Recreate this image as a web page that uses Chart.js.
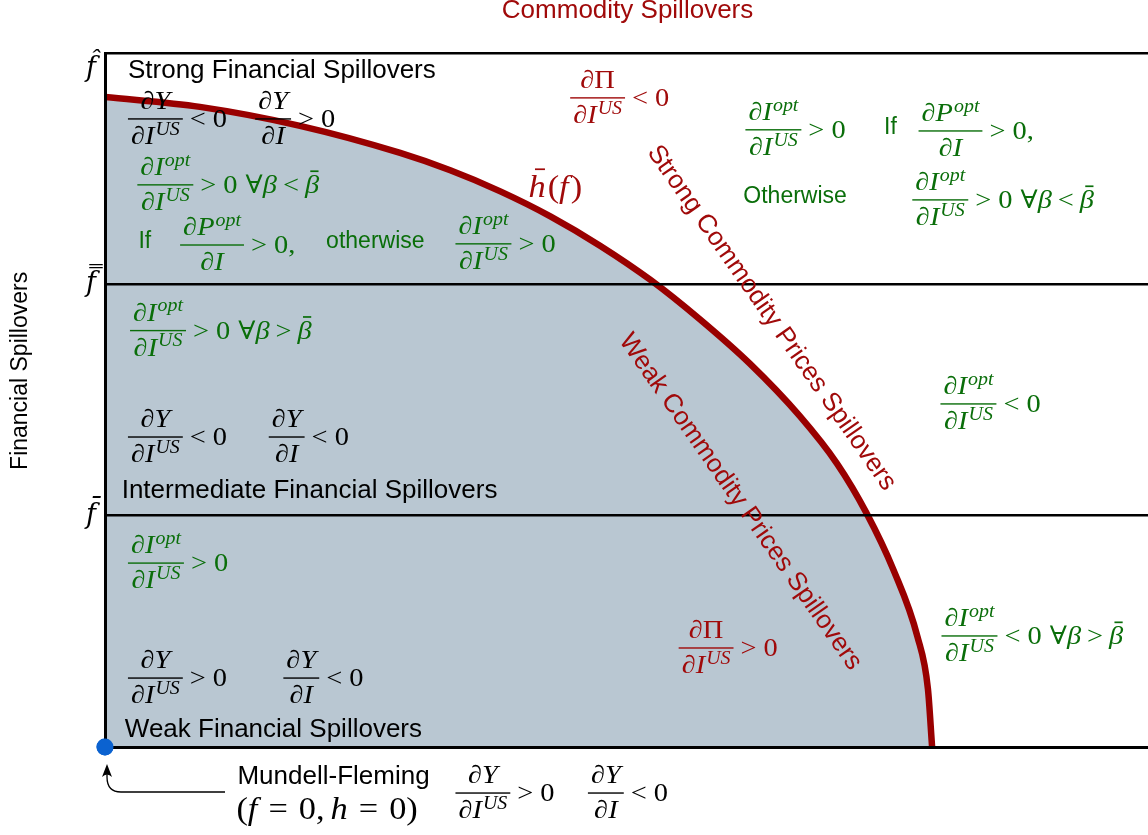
<!DOCTYPE html>
<html>
<head>
<meta charset="utf-8">
<script src="https://cdn.jsdelivr.net/npm/chart.js@4.4.0/dist/chart.umd.min.js"></script>
<style>
  html, body { margin: 0; padding: 0; background: #fff; overflow: hidden; }
  #wrap { width: 1148px; height: 835px; }
</style>
</head>
<body>
<div id="wrap"><canvas id="regimeChart"></canvas></div>
<script>
// boundary h̄(f)  (x: commodity spillovers 0-10, y: financial spillovers 0-3)
const curveX = [0, 0.91, 1.87, 2.83, 3.31, 3.79, 4.27, 4.75, 5.23, 5.70, 6.18, 6.66, 7.02, 7.30, 7.56, 7.79, 7.89, 7.93];
const curveY = [2.81, 2.767, 2.685, 2.568, 2.493, 2.402, 2.294, 2.166, 2.019, 1.85, 1.658, 1.431, 1.224, 1.012, 0.765, 0.476, 0.251, 0];
// Mundell-Fleming point
const originX = [0];
const originY = [0];
// financial spillover thresholds on the y axis
const yTickValues = [0, 1, 2, 3];
const yTickLabels = ['', 'f\u0304', 'f\u033F', 'f\u0302'];

const GREEN = '#0a6e0a', RED = '#a00a0a', CURVE = '#990000', FILL = '#b9c7d2';
const MATH = '"Liberation Serif", "DejaVu Serif", serif';
const SANS = '"Liberation Sans", Arial, sans-serif';
const GF = 1.06, HS = 1.12;   // glyph size / horizontal stretch to get closer to Computer Modern widths

// tiny math layout helpers
const it = t => ({ t, st: 'italic' });
const rm = t => ({ t, st: 'normal' });
const up = t => ({ t, st: 'italic', sup: true });
const sf = t => ({ t, sans: true });
const sp = gap => ({ gap });
const br = (t, h) => ({ t, st: 'italic', bar: h });
const fr = (num, den) => ({ frac: [num, den] });
const rel = (op, rhs) => [sp(7), rm(op), sp(7), rm(rhs)];
const forall = op => [sp(8), rm('\u2200'), it('\u03B2'), sp(6), rm(op), sp(6), br('\u03B2', 0.9)];

const dY_dIUS = fr([it('\u2202Y')], [it('\u2202I'), up('US')]);
const dY_dI = fr([it('\u2202Y')], [it('\u2202I')]);
const dIo_dIUS = fr([it('\u2202I'), up('opt')], [it('\u2202I'), up('US')]);
const dPo_dI = fr([it('\u2202P'), up('opt')], [it('\u2202I')]);
const dPi_dIUS = fr([it('\u2202'), rm('\u03A0')], [it('\u2202I'), up('US')]);

const notes = [
  { x: 0.22, y: 2.715, c: '#000', e: [dY_dIUS, ...rel('<', '0')] },
  { x: 1.44, y: 2.715, c: '#000', e: [dY_dI, ...rel('>', '0')] },
  { x: 0.31, y: 2.43, c: GREEN, e: [dIo_dIUS, ...rel('>', '0'), ...forall('<')] },
  { x: 0.32, y: 2.17, c: GREEN, e: [sf('If')] },
  { x: 0.72, y: 2.17, c: GREEN, e: [dPo_dI, ...rel('>', '0,')] },
  { x: 2.12, y: 2.17, c: GREEN, e: [sf('otherwise')] },
  { x: 3.36, y: 2.175, c: GREEN, e: [dIo_dIUS, ...rel('>', '0')] },
  { x: 4.46, y: 2.806, c: RED, e: [dPi_dIUS, ...rel('<', '0')] },
  { x: 4.06, y: 2.42, c: RED, size: 29, e: [br('h', 0.95), sp(2), rm('('), it('f'), sp(2), rm(')')] },
  { x: 6.14, y: 2.668, c: GREEN, e: [dIo_dIUS, ...rel('>', '0')] },
  { x: 7.47, y: 2.663, c: GREEN, e: [sf('If')] },
  { x: 7.80, y: 2.663, c: GREEN, e: [dPo_dI, ...rel('>', '0,')] },
  { x: 6.12, y: 2.365, c: GREEN, e: [sf('Otherwise')] },
  { x: 7.74, y: 2.365, c: GREEN, e: [dIo_dIUS, ...rel('>', '0'), ...forall('<')] },
  { x: 0.24, y: 1.80, c: GREEN, e: [dIo_dIUS, ...rel('>', '0'), ...forall('>')] },
  { x: 0.22, y: 1.34, c: '#000', e: [dY_dIUS, ...rel('<', '0')] },
  { x: 1.57, y: 1.34, c: '#000', e: [dY_dI, ...rel('<', '0')] },
  { x: 8.01, y: 1.483, c: GREEN, e: [dIo_dIUS, ...rel('<', '0')] },
  { x: 0.22, y: 0.795, c: GREEN, e: [dIo_dIUS, ...rel('>', '0')] },
  { x: 0.22, y: 0.298, c: '#000', e: [dY_dIUS, ...rel('>', '0')] },
  { x: 1.71, y: 0.298, c: '#000', e: [dY_dI, ...rel('<', '0')] },
  { x: 5.50, y: 0.428, c: RED, e: [dPi_dIUS, ...rel('>', '0')] },
  { x: 8.02, y: 0.48, c: GREEN, e: [dIo_dIUS, ...rel('<', '0'), ...forall('>')] },
  { x: 3.36, y: -0.199, c: '#000', e: [dY_dIUS, ...rel('>', '0')] },
  { x: 4.63, y: -0.199, c: '#000', e: [dY_dI, ...rel('<', '0')] },
  { x: 1.26, y: -0.27, c: '#000', size: 29, e: [rm('('), it('f'), sp(11), rm('='), sp(11), rm('0,'), sp(6), it('h'), sp(11), rm('='), sp(11), rm('0)')] }
];

const labels = [
  { x: 0.22, y: 2.892, t: 'Strong Financial Spillovers', c: '#000', size: 26 },
  { x: 0.16, y: 1.077, t: 'Intermediate Financial Spillovers', c: '#000', size: 26 },
  { x: 0.19, y: 0.043, t: 'Weak Financial Spillovers', c: '#000', size: 26 },
  { x: 1.27, y: -0.16, t: 'Mundell-Fleming', c: '#000', size: 26 },
  { x: 5.01, y: 3.152, t: 'Commodity Spillovers', c: RED, size: 26, align: 'center' },
  { x: -0.805, y: 1.626, t: 'Financial Spillovers', c: '#000', size: 23, align: 'center', base: 'middle', rot: -90 },
  { x: 6.39, y: 1.855, t: 'Strong Commodity Prices Spillovers', c: RED, size: 26, align: 'center', base: 'middle', rot: 55 },
  { x: 6.09, y: 1.06, t: 'Weak Commodity Prices Spillovers', c: RED, size: 26, align: 'center', base: 'middle', rot: 55 }
];

function setFont(ctx, item, size) {
  if (item.sans) ctx.font = Math.round(size * 0.96) + 'px ' + SANS;
  else ctx.font = item.st + ' ' + ((item.sup ? size * 0.7 : size) * GF).toFixed(1) + 'px ' + MATH;
}

function runWidth(ctx, item, size) {
  setFont(ctx, item, size);
  const w = ctx.measureText(item.t).width;
  return item.sans ? w : w * HS;
}

function widthOf(ctx, items, size) {
  let w = 0;
  for (const item of items) {
    if (item.gap) w += item.gap;
    else if (item.frac) w += fracWidth(ctx, item, size);
    else w += runWidth(ctx, item, size) + (item.sup ? 1 : 0);
  }
  return w;
}

function fracWidth(ctx, item, size) {
  return Math.max(widthOf(ctx, item.frac[0], size), widthOf(ctx, item.frac[1], size)) + 6;
}

function drawLine(ctx, items, x, baseline, size, axis) {
  for (const item of items) {
    if (item.gap) { x += item.gap; continue; }
    if (item.frac) { x += drawFrac(ctx, item, x, axis, size); continue; }
    let y = baseline;
    if (item.sup) y -= size * 0.38;
    if (item.sans) y -= size * 0.2;
    const dx = item.sup ? 1 : 0;
    const w = runWidth(ctx, item, size);
    setFont(ctx, item, size);
    ctx.save();
    ctx.translate(x + dx, y);
    if (!item.sans) ctx.scale(HS, 1);
    ctx.fillText(item.t, 0, 0);
    ctx.restore();
    if (item.bar) {
      ctx.fillRect(x + w * 0.38, y - size * item.bar - 0.8, w * 0.58, 1.7);
    }
    x += w + dx;
  }
  return x;
}

function drawFrac(ctx, item, x, axis, size) {
  const wn = widthOf(ctx, item.frac[0], size);
  const wd = widthOf(ctx, item.frac[1], size);
  const w = Math.max(wn, wd) + 6;
  drawLine(ctx, item.frac[0], x + (w - wn) / 2, axis - size * 0.42, size, axis);
  drawLine(ctx, item.frac[1], x + (w - wd) / 2, axis + size * 1.04, size, axis);
  ctx.fillRect(x, axis - 0.7, w, 1.4);
  return w;
}

const annotate = {
  id: 'annotate',
  afterDraw(chart) {
    const ctx = chart.ctx;
    const sx = chart.scales.x, sy = chart.scales.y;
    ctx.save();
    ctx.textAlign = 'left';
    ctx.textBaseline = 'alphabetic';

    notes.forEach(n => {
      const size = n.size || 24;
      const axis = sy.getPixelForValue(n.y);
      ctx.fillStyle = n.c;
      drawLine(ctx, n.e, sx.getPixelForValue(n.x), axis + size * 0.33, size, axis);
    });

    labels.forEach(l => {
      ctx.save();
      ctx.translate(sx.getPixelForValue(l.x), sy.getPixelForValue(l.y));
      if (l.rot) ctx.rotate(l.rot * Math.PI / 180);
      ctx.font = l.size + 'px ' + SANS;
      ctx.fillStyle = l.c;
      ctx.textAlign = l.align || 'left';
      ctx.textBaseline = l.base || 'alphabetic';
      ctx.fillText(l.t, 0, 0);
      ctx.restore();
    });

    // arrow from the Mundell-Fleming label to the origin point
    const ox = sx.getPixelForValue(originX[0]), oy = sy.getPixelForValue(originY[0]);
    ctx.strokeStyle = '#000';
    ctx.fillStyle = '#000';
    ctx.lineWidth = 1.3;
    ctx.beginPath();
    ctx.moveTo(ox + 120, oy + 45);
    ctx.lineTo(ox + 16, oy + 45);
    ctx.quadraticCurveTo(ox + 2, oy + 45, ox + 2, oy + 30);
    ctx.lineTo(ox + 2, oy + 22);
    ctx.stroke();
    ctx.beginPath();
    ctx.moveTo(ox + 2, oy + 17);
    ctx.lineTo(ox + 7, oy + 30);
    ctx.quadraticCurveTo(ox + 2, oy + 25, ox - 3, oy + 30);
    ctx.closePath();
    ctx.fill();

    // origin point sits on top of the axis lines
    chart.getDatasetMeta(1).data.forEach(p => p.draw(ctx));
    ctx.restore();
  }
};

new Chart(document.getElementById('regimeChart'), {
  data: {
    datasets: [{
      type: 'line',
      label: 'h(f)',
      data: curveX.map((x, i) => ({ x, y: curveY[i] })),
      borderColor: CURVE,
      borderWidth: 6.5,
      backgroundColor: FILL,
      fill: 'origin',
      pointRadius: 0,
      cubicInterpolationMode: 'monotone'
    }, {
      type: 'scatter',
      label: 'Mundell-Fleming',
      data: originX.map((x, i) => ({ x, y: originY[i] })),
      backgroundColor: '#0b62d0',
      borderWidth: 0,
      pointRadius: 8.5,
      clip: false
    }]
  },
  options: {
    responsive: true,
    maintainAspectRatio: false,
    animation: false,
    layout: { autoPadding: false, padding: { top: 53, right: 0, left: 0, bottom: 0 } },
    plugins: { legend: { display: false }, tooltip: { enabled: false } },
    scales: {
      x: {
        type: 'linear', min: 0, max: 10,
        afterFit: s => { s.height = 88; },
        grid: { display: false, drawTicks: false },
        ticks: { display: false },
        border: { display: true, color: '#000', width: 3, z: 2 }
      },
      y: {
        type: 'linear', min: 0, max: 3,
        afterFit: s => { s.width = 105; },
        afterBuildTicks: s => { s.ticks = yTickValues.map(v => ({ value: v })); },
        grid: { color: '#000', lineWidth: 2.5, drawTicks: false, z: 1 },
        border: { display: true, color: '#000', width: 3, z: 2 },
        ticks: {
          padding: 9,
          color: '#000',
          font: { family: '"DejaVu Serif", serif', style: 'italic', size: 27 },
          callback: v => v === 3 ? ['', yTickLabels[3]] : yTickLabels[yTickValues.indexOf(v)]
        }
      }
    }
  },
  plugins: [annotate]
});
</script>
</body>
</html>
